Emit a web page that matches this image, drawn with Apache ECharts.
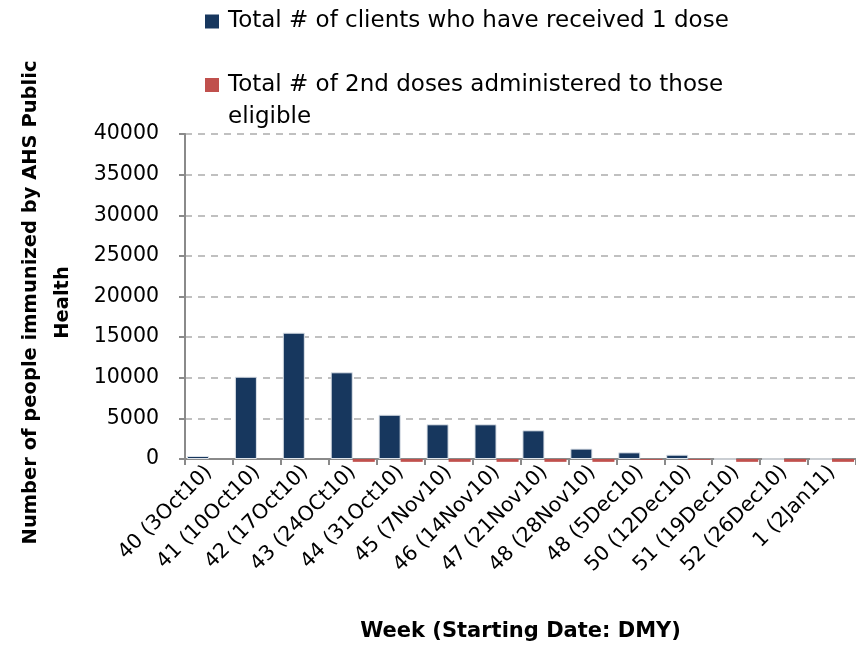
<!DOCTYPE html>
<html>
<head>
<meta charset="utf-8">
<script src="https://cdn.jsdelivr.net/npm/echarts@6/dist/echarts.min.js"></script>
<style>html,body{margin:0;padding:0;background:#fff}#c{width:856px;height:650px}</style>
</head>
<body>
<div id="c"></div>
<script>
var categories = ['40 (3Oct10)','41 (10Oct10)','42 (17Oct10)','43 (24OCt10)','44 (31Oct10)','45 (7Nov10)','46 (14Nov10)','47 (21Nov10)','48 (28Nov10)','48 (5Dec10)','50 (12Dec10)','51 (19Dec10)','52 (26Dec10)','1 (2Jan11)'];
var firstDose = [370, 10130, 15550, 10670, 5450, 4270, 4270, 3530, 1280, 820, 530, 0, 0, 0];
var secondDose = [0, 0, 0, -350, -350, -350, -350, -350, -350, -100, -100, -350, -350, -350];
var seriesNames = ['Total # of clients who have received 1 dose', 'Total # of 2nd doses administered to those eligible'];
var yTicks = [0, 40000, 5000];

var font = 'DejaVu Sans';
var chart = echarts.init(document.getElementById('c'));
chart.setOption({
  animation: false,
  legend: [{
    data: [seriesNames[0]],
    left: 200, top: 5,
    itemWidth: 14, itemHeight: 14,
    icon: 'rect',
    itemStyle: {borderWidth: 0},
    textStyle: {fontFamily: font, fontSize: 23, color: '#000', padding: [0,0,0,4]}
  },{
    data: [seriesNames[1]],
    left: 200, top: 32,
    itemWidth: 14, itemHeight: 14,
    icon: 'rect',
    itemStyle: {borderWidth: 0},
    formatter: function(){ return ' \nTotal # of 2nd doses administered to those\neligible'; },
    textStyle: {fontFamily: font, fontSize: 23, color: '#000', lineHeight: 32, padding: [0,0,0,4]}
  }],
  grid: {left: 185, right: -8, top: 134, bottom: 191, containLabel: false},
  xAxis: {
    type: 'category',
    data: categories,
    name: 'Week (Starting Date: DMY)',
    nameLocation: 'middle',
    nameGap: 162,
    nameTextStyle: {fontFamily: font, fontSize: 21, fontWeight: 'bold', color: '#000'},
    axisLine: {lineStyle: {color: '#8a8a8a', width: 2}},
    axisTick: {show: true, length: 6, lineStyle: {color: '#8a8a8a', width: 2}},
    axisLabel: {rotate: 45, interval: 0, margin: 10, fontFamily: font, fontSize: 20.5, color: '#000'}
  },
  yAxis: {
    type: 'value',
    min: yTicks[0], max: yTicks[1], interval: yTicks[2],
    name: 'Number of people immunized by AHS Public\nHealth',
    nameLocation: 'middle',
    nameGap: 106,
    nameTextStyle: {fontFamily: font, fontSize: 19.5, fontWeight: 'bold', color: '#000', lineHeight: 32, padding: [0, 12, 0, 0]},
    axisLine: {show: true, lineStyle: {color: '#8a8a8a', width: 2}},
    axisTick: {show: true, length: 6, lineStyle: {color: '#8a8a8a', width: 2}},
    axisLabel: {margin: 26, fontFamily: font, fontSize: 20.5, color: '#000', formatter: function(v){ return String(v); }},
    splitLine: {lineStyle: {color: '#c0c0c0', width: 2, type: [7, 6]}}
  },
  series: [{
    name: seriesNames[0], type: 'bar', data: firstDose,
    barGap: '0%', barCategoryGap: '8%', clip: false,
    itemStyle: {color: '#17375E', borderColor: '#dfe4ea', borderWidth: 1}
  },{
    name: seriesNames[1], type: 'bar', data: secondDose,
    clip: false,
    itemStyle: {color: '#C0504D'}
  }]
});
</script>
</body>
</html>
